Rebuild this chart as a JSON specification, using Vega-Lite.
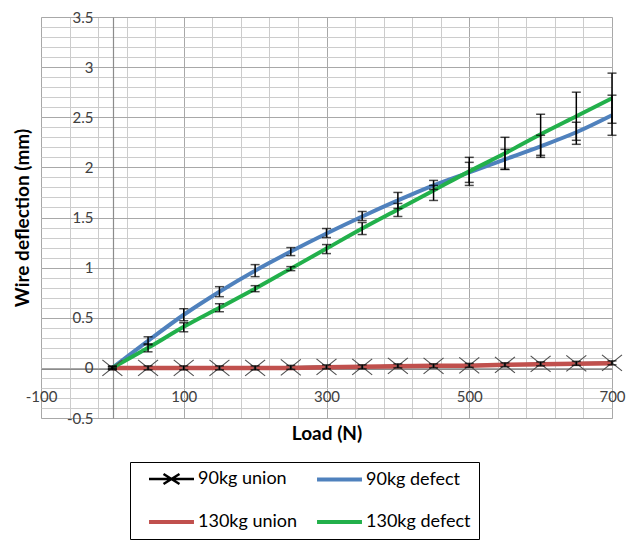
{
  "$schema": "https://vega.github.io/schema/vega-lite/v6.json",
  "width": 571,
  "height": 401,
  "autosize": {"type": "none"},
  "padding": {"left": 41, "top": 17, "right": 17, "bottom": 123},
  "background": "white",
  "config": {"view": {"stroke": null}, "font": "Lato"},
  "data": {
    "values": [
      {"load": 0, "series": "90kg union", "value": 0, "lo": -0.02, "hi": 0.02},
      {"load": 50, "series": "90kg union", "value": 0, "lo": -0.02, "hi": 0.02},
      {"load": 100, "series": "90kg union", "value": 0, "lo": -0.02, "hi": 0.02},
      {"load": 150, "series": "90kg union", "value": 0, "lo": -0.02, "hi": 0.02},
      {"load": 200, "series": "90kg union", "value": 0, "lo": -0.02, "hi": 0.02},
      {"load": 250, "series": "90kg union", "value": 0.005, "lo": -0.015, "hi": 0.025},
      {"load": 300, "series": "90kg union", "value": 0.01, "lo": -0.01, "hi": 0.03},
      {"load": 350, "series": "90kg union", "value": 0.01, "lo": -0.01, "hi": 0.03},
      {"load": 400, "series": "90kg union", "value": 0.02, "lo": 0, "hi": 0.04},
      {"load": 450, "series": "90kg union", "value": 0.02, "lo": 0, "hi": 0.04},
      {"load": 500, "series": "90kg union", "value": 0.025, "lo": 0.005, "hi": 0.045},
      {"load": 550, "series": "90kg union", "value": 0.03, "lo": 0.01, "hi": 0.05},
      {"load": 600, "series": "90kg union", "value": 0.04, "lo": 0.02, "hi": 0.06},
      {"load": 650, "series": "90kg union", "value": 0.045, "lo": 0.025, "hi": 0.065},
      {"load": 700, "series": "90kg union", "value": 0.05, "lo": 0.03, "hi": 0.07},
      {"load": 0, "series": "130kg union", "value": 0},
      {"load": 50, "series": "130kg union", "value": 0},
      {"load": 100, "series": "130kg union", "value": 0},
      {"load": 150, "series": "130kg union", "value": 0},
      {"load": 200, "series": "130kg union", "value": 0},
      {"load": 250, "series": "130kg union", "value": 0},
      {"load": 300, "series": "130kg union", "value": 0.005},
      {"load": 350, "series": "130kg union", "value": 0.01},
      {"load": 400, "series": "130kg union", "value": 0.015},
      {"load": 450, "series": "130kg union", "value": 0.02},
      {"load": 500, "series": "130kg union", "value": 0.02},
      {"load": 550, "series": "130kg union", "value": 0.03},
      {"load": 600, "series": "130kg union", "value": 0.035},
      {"load": 650, "series": "130kg union", "value": 0.04},
      {"load": 700, "series": "130kg union", "value": 0.045},
      {"load": 0, "series": "90kg defect", "value": 0, "lo": -0.01, "hi": 0.01},
      {"load": 50, "series": "90kg defect", "value": 0.27, "lo": 0.23, "hi": 0.31},
      {"load": 100, "series": "90kg defect", "value": 0.53, "lo": 0.47, "hi": 0.59},
      {"load": 150, "series": "90kg defect", "value": 0.76, "lo": 0.71, "hi": 0.81},
      {"load": 200, "series": "90kg defect", "value": 0.97, "lo": 0.91, "hi": 1.03},
      {"load": 250, "series": "90kg defect", "value": 1.16, "lo": 1.12, "hi": 1.2},
      {"load": 300, "series": "90kg defect", "value": 1.34, "lo": 1.3, "hi": 1.39},
      {"load": 350, "series": "90kg defect", "value": 1.51, "lo": 1.47, "hi": 1.56},
      {"load": 400, "series": "90kg defect", "value": 1.67, "lo": 1.59, "hi": 1.75},
      {"load": 450, "series": "90kg defect", "value": 1.82, "lo": 1.78, "hi": 1.87},
      {"load": 500, "series": "90kg defect", "value": 1.95, "lo": 1.85, "hi": 2.05},
      {"load": 550, "series": "90kg defect", "value": 2.08, "lo": 1.98, "hi": 2.18},
      {"load": 600, "series": "90kg defect", "value": 2.21, "lo": 2.1, "hi": 2.32},
      {"load": 650, "series": "90kg defect", "value": 2.35, "lo": 2.23, "hi": 2.45},
      {"load": 700, "series": "90kg defect", "value": 2.52, "lo": 2.32, "hi": 2.72},
      {"load": 0, "series": "130kg defect", "value": 0, "lo": -0.01, "hi": 0.01},
      {"load": 50, "series": "130kg defect", "value": 0.2, "lo": 0.16, "hi": 0.24},
      {"load": 100, "series": "130kg defect", "value": 0.41, "lo": 0.36, "hi": 0.45},
      {"load": 150, "series": "130kg defect", "value": 0.6, "lo": 0.56, "hi": 0.64},
      {"load": 200, "series": "130kg defect", "value": 0.79, "lo": 0.76, "hi": 0.82},
      {"load": 250, "series": "130kg defect", "value": 0.99, "lo": 0.97, "hi": 1.01},
      {"load": 300, "series": "130kg defect", "value": 1.19, "lo": 1.14, "hi": 1.23},
      {"load": 350, "series": "130kg defect", "value": 1.39, "lo": 1.33, "hi": 1.45},
      {"load": 400, "series": "130kg defect", "value": 1.58, "lo": 1.51, "hi": 1.64},
      {"load": 450, "series": "130kg defect", "value": 1.77, "lo": 1.67, "hi": 1.82},
      {"load": 500, "series": "130kg defect", "value": 1.96, "lo": 1.82, "hi": 2.1},
      {"load": 550, "series": "130kg defect", "value": 2.14, "lo": 1.98, "hi": 2.3},
      {"load": 600, "series": "130kg defect", "value": 2.33, "lo": 2.12, "hi": 2.53},
      {"load": 650, "series": "130kg defect", "value": 2.51, "lo": 2.27, "hi": 2.75},
      {"load": 700, "series": "130kg defect", "value": 2.69, "lo": 2.44, "hi": 2.94}
    ]
  },
  "resolve": {"axis": {"x": "independent", "y": "independent"}},
  "layer": [
    {
      "transform": [{"filter": "datum.series === '90kg union'"}],
      "mark": {"type": "line", "strokeWidth": 2.5},
      "encoding": {
        "x": {"field": "load", "type": "quantitative",
          "scale": {"domain": [-100, 700], "nice": false, "zero": false},
          "axis": {"orient": "bottom", "values": [-100,-60,-20,20,60,100,140,180,220,260,300,340,380,420,460,500,540,580,620,660,700],
            "grid": true, "gridColor": "#cccccc", "gridWidth": 1, "labels": false, "ticks": false, "domain": false,
            "title": "Load (N)", "titleFont": "Lato", "titleFontSize": 19, "titleFontWeight": "bold", "titleColor": "black", "titlePadding": 6, "zindex": 0}},
        "y": {"field": "value", "type": "quantitative",
          "scale": {"domain": [-0.5, 3.5], "nice": false, "zero": false},
          "axis": {"orient": "left", "values": [-0.5,-0.4,-0.3,-0.2,-0.1,0,0.1,0.2,0.3,0.4,0.5,0.6,0.7,0.8,0.9,1,1.1,1.2,1.3,1.4,1.5,1.6,1.7,1.8,1.9,2,2.1,2.2,2.3,2.4,2.5,2.6,2.7,2.8,2.9,3,3.1,3.2,3.3,3.4,3.5],
            "grid": true, "gridColor": "#cccccc", "gridWidth": 1, "labels": false, "ticks": false, "domain": false,
            "title": "Wire deflection (mm)", "titleFont": "Lato", "titleFontSize": 19, "titleFontWeight": "bold", "titleColor": "black", "titlePadding": 9, "zindex": 0}},
        "color": {"field": "series", "type": "nominal",
          "scale": {"domain": ["90kg union", "130kg union", "90kg defect", "130kg defect"], "range": ["#000000", "#c0504d", "#4f81bd", "#22b04b"]},
          "legend": {"orient": "none", "legendX": 89, "legendY": 445, "columns": 2, "title": null,
            "strokeColor": "black", "padding": 8, "fillColor": "white",
            "symbolType": "M0.29,0H6.71", "symbolSize": 196, "symbolStrokeWidth": 4,
            "labelFont": "Lato", "labelFontSize": 18, "labelColor": "black", "labelOffset": 42,
            "columnPadding": 8, "rowPadding": 24,
            "encode": {"symbols": {"update": {
              "shape": {"signal": "datum.value === '90kg union' ? 'M0.29,0H6.71M2.36,-0.71L4.64,0.71M2.36,0.71L4.64,-0.71' : 'M0.29,0H6.71'"},
              "strokeWidth": {"signal": "datum.value === '90kg union' ? 2.5 : 4"}}}}}}
      }
    },
    {
      "transform": [{"filter": "datum.series === '130kg union'"}],
      "mark": {"type": "line", "strokeWidth": 4.5},
      "encoding": {
        "x": {"field": "load", "type": "quantitative",
          "scale": {"domain": [-100, 700], "nice": false, "zero": false},
          "axis": {"orient": "bottom", "values": [-100, 100, 300, 500, 700], "grid": true, "gridColor": "#a8a8a8", "gridWidth": 1,
            "ticks": false, "domain": false, "offset": -49, "labelPadding": 20, "labelFlush": false, "labelOverlap": false,
            "labelFont": "Lato", "labelFontSize": 15, "labelColor": "#404040", "labelExpr": "'' + datum.value", "title": null, "zindex": 0}},
        "y": {"field": "value", "type": "quantitative",
          "scale": {"domain": [-0.5, 3.5], "nice": false, "zero": false},
          "axis": {"orient": "left", "values": [-0.5, 0, 0.5, 1, 1.5, 2, 2.5, 3, 3.5], "grid": true, "gridColor": "#a8a8a8", "gridWidth": 1,
            "ticks": false, "domain": false, "offset": -72, "labelPadding": 20, "labelFlush": false, "labelOverlap": false,
            "labelFont": "Lato", "labelFontSize": 15, "labelColor": "#404040", "labelExpr": "'' + datum.value", "title": null, "zindex": 0}},
        "color": {"field": "series", "type": "nominal"}
      }
    },
    {
      "transform": [{"filter": "datum.series === '90kg defect'"}],
      "mark": {"type": "line", "strokeWidth": 4, "interpolate": "monotone"},
      "encoding": {
        "x": {"field": "load", "type": "quantitative",
          "scale": {"domain": [-100, 700], "nice": false, "zero": false},
          "axis": {"orient": "bottom", "values": [], "grid": false, "labels": false, "ticks": false, "domain": true, "domainColor": "#8c8c8c", "domainWidth": 1.2, "offset": -49, "title": null, "zindex": 0}},
        "y": {"field": "value", "type": "quantitative",
          "scale": {"domain": [-0.5, 3.5], "nice": false, "zero": false},
          "axis": {"orient": "left", "values": [], "grid": false, "labels": false, "ticks": false, "domain": true, "domainColor": "#8c8c8c", "domainWidth": 1.2, "offset": -72, "title": null, "zindex": 0}},
        "color": {"field": "series", "type": "nominal"}
      }
    },
    {
      "transform": [{"filter": "datum.series === '130kg defect'"}],
      "mark": {"type": "line", "strokeWidth": 4, "interpolate": "monotone"},
      "encoding": {
        "x": {"field": "load", "type": "quantitative", "scale": {"domain": [-100, 700], "nice": false, "zero": false}, "axis": null},
        "y": {"field": "value", "type": "quantitative", "scale": {"domain": [-0.5, 3.5], "nice": false, "zero": false}, "axis": null},
        "color": {"field": "series", "type": "nominal"}
      }
    },
    {
      "transform": [{"filter": "datum.series === '90kg union'"}],
      "mark": {"type": "point", "shape": "M-1,-0.8L1,0.8M-1,0.8L1,-0.8", "size": 400, "filled": false, "stroke": "#505050", "strokeWidth": 1.2, "opacity": 1},
      "encoding": {
        "x": {"field": "load", "type": "quantitative", "scale": {"domain": [-100, 700], "nice": false, "zero": false}, "axis": null},
        "y": {"field": "value", "type": "quantitative", "scale": {"domain": [-0.5, 3.5], "nice": false, "zero": false}, "axis": null}
      }
    },
    {
      "transform": [{"filter": "isValid(datum.lo)"}],
      "mark": {"type": "errorbar", "ticks": true, "color": "black", "thickness": 1.5, "size": 9},
      "encoding": {
        "x": {"field": "load", "type": "quantitative", "scale": {"domain": [-100, 700], "nice": false, "zero": false}, "axis": null},
        "y": {"field": "lo", "type": "quantitative", "scale": {"domain": [-0.5, 3.5], "nice": false, "zero": false}, "axis": null},
        "y2": {"field": "hi"}
      }
    }
  ]
}
